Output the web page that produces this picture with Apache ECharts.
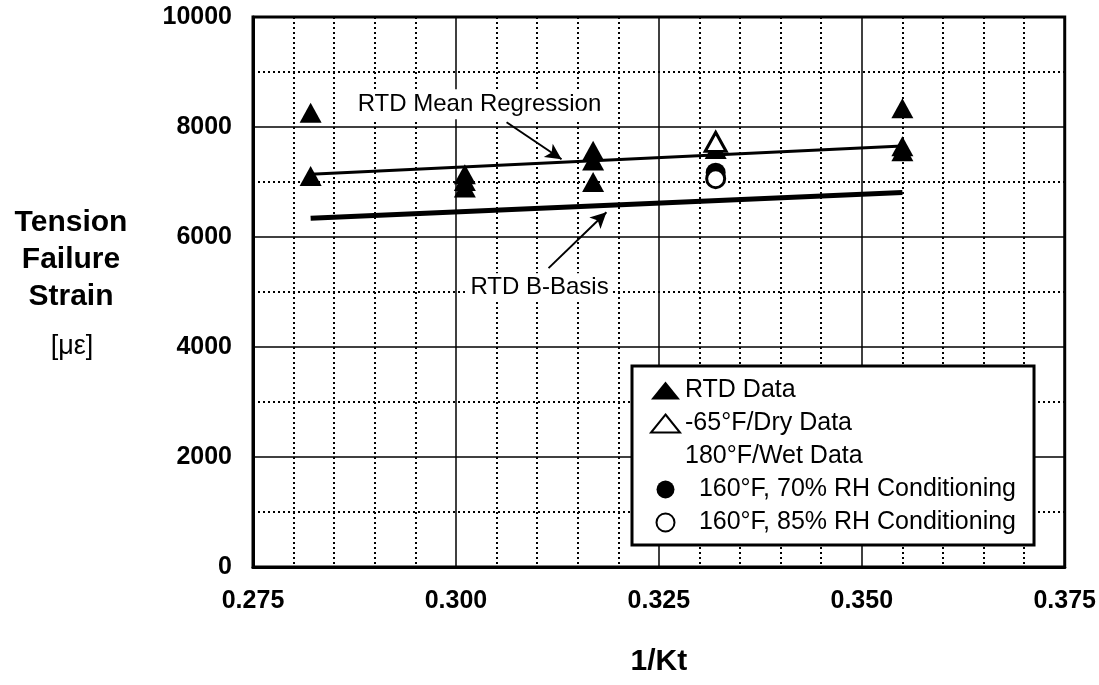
<!DOCTYPE html>
<html>
<head>
<meta charset="utf-8">
<script src="https://cdn.jsdelivr.net/npm/echarts@6/dist/echarts.min.js"></script>
<style>
html,body{margin:0;padding:0;background:#fff;}
#chart{width:1099px;height:685px;}
</style>
</head>
<body>
<div id="chart"></div>
<script>
// ---- data ----
const rtdX = [0.2821, 0.2821, 0.3011, 0.3011, 0.3011, 0.3169, 0.3169, 0.3169, 0.3320, 0.3550, 0.3550, 0.3550];
const rtdY = [8260, 7110, 7140, 7020, 6900, 7570, 7390, 7000, 7600, 8340, 7650, 7560];
const dryX = [0.3320];
const dryY = [7730];
const wet70X = [0.3320];
const wet70Y = [7170];
const wet85X = [0.3320];
const wet85Y = [7060];
const meanX = [0.2821, 0.3550];
const meanY = [7140, 7655];
const bBasisX = [0.2821, 0.3550];
const bBasisY = [6340, 6810];
const xTicks = [0.275, 0.300, 0.325, 0.350, 0.375];
const yTicks = [0, 2000, 4000, 6000, 8000, 10000];
const legendNames = ['RTD Data', '-65°F/Dry Data', '180°F/Wet Data', '  160°F, 70% RH Conditioning', '  160°F, 85% RH Conditioning'];
// annotations (data coordinates)
const meanLabel = {text: 'RTD Mean Regression', x: 0.3029, y: 8414};
const meanArrow = {x1: 0.30624, y1: 8087, x2: 0.31301, y2: 7414};
const bLabel = {text: 'RTD B-Basis', x: 0.3103, y: 5088};
const bArrow = {x1: 0.31141, y1: 5434, x2: 0.31854, y2: 6451};

const zip = (xs, ys) => xs.map((x, i) => [x, ys[i]]);
const FONT = '"Liberation Sans", Arial, Helvetica, sans-serif';

const chart = echarts.init(document.getElementById('chart'), null, {renderer: 'canvas'});
const titleGraphics = [
  {type: 'text', x: 71, y: 223, style: {text: 'Tension', font: 'bold 30px ' + FONT, fill: '#000', align: 'center', verticalAlign: 'middle'}},
  {type: 'text', x: 71, y: 260, style: {text: 'Failure', font: 'bold 30px ' + FONT, fill: '#000', align: 'center', verticalAlign: 'middle'}},
  {type: 'text', x: 71, y: 297, style: {text: 'Strain', font: 'bold 30px ' + FONT, fill: '#000', align: 'center', verticalAlign: 'middle'}},
  {type: 'text', x: 72, y: 347, style: {text: '[με]', font: '27px ' + FONT, fill: '#000', align: 'center', verticalAlign: 'middle'}}
];
const option = {
  animation: false,
  backgroundColor: '#fff',
  textStyle: {fontFamily: FONT, color: '#000'},
  grid: {left: 253, top: 17, right: 33, bottom: 118, show: true, borderColor: '#000', borderWidth: 3, backgroundColor: 'transparent'},
  xAxis: {
    type: 'value', min: xTicks[0], max: xTicks[xTicks.length - 1], interval: 0.025,
    axisLine: {show: true, lineStyle: {color: '#000', width: 3}},
    axisTick: {show: false},
    axisLabel: {color: '#000', fontFamily: FONT, fontWeight: 'bold', fontSize: 25, margin: 22,
      formatter: v => v.toFixed(3)},
    splitLine: {show: true, lineStyle: {color: '#000', width: 1.5, type: 'solid'}},
    minorTick: {show: false, splitNumber: 5},
    minorSplitLine: {show: true, lineStyle: {color: '#000', width: 2, type: [2, 3]}},
    name: '1/Kt', nameLocation: 'middle', nameGap: 80,
    nameTextStyle: {color: '#000', fontFamily: FONT, fontWeight: 'bold', fontSize: 30}
  },
  yAxis: {
    type: 'value', min: yTicks[0], max: yTicks[yTicks.length - 1], interval: 2000,
    axisLine: {show: true, lineStyle: {color: '#000', width: 3}},
    axisTick: {show: false},
    axisLabel: {color: '#000', fontFamily: FONT, fontWeight: 'bold', fontSize: 25, margin: 21,
      formatter: v => String(Math.round(v))},
    splitLine: {show: true, lineStyle: {color: '#000', width: 1.5, type: 'solid'}},
    minorTick: {show: false, splitNumber: 2},
    minorSplitLine: {show: true, lineStyle: {color: '#000', width: 2, type: [2, 3]}}
  },
  legend: {
    data: [
      {name: legendNames[0], icon: 'triangle'},
      {name: legendNames[1], icon: 'triangle'},
      {name: legendNames[2], icon: 'none'},
      {name: legendNames[3], icon: 'circle'},
      {name: legendNames[4], icon: 'circle'}
    ],
    orient: 'vertical', left: 632, top: 366,
    backgroundColor: '#fff', borderColor: '#000', borderWidth: 3,
    padding: [12, 18, 10, 18],
    itemWidth: 29, itemHeight: 18, itemGap: 8,
    textStyle: {color: '#000', fontFamily: FONT, fontSize: 25},
    selectedMode: false
  },
  series: [
    {name: 'mean', type: 'line', data: zip(meanX, meanY), symbol: 'none', z: 2,
      lineStyle: {color: '#000', width: 3},
      markLine: {silent: true, symbol: ['none', 'arrow'], symbolSize: [12, 16], label: {show: false},
        lineStyle: {color: '#000', width: 2, type: 'solid'},
        data: [[{coord: [meanArrow.x1, meanArrow.y1]}, {coord: [meanArrow.x2, meanArrow.y2]}],
               [{coord: [bArrow.x1, bArrow.y1]}, {coord: [bArrow.x2, bArrow.y2]}]]}},
    {name: 'bbasis', type: 'line', data: zip(bBasisX, bBasisY), symbol: 'none', z: 2,
      lineStyle: {color: '#000', width: 5}},
    {name: legendNames[0], type: 'scatter', data: zip(rtdX, rtdY), symbol: 'triangle', symbolSize: [22, 20], z: 3,
      itemStyle: {color: '#000', opacity: 1}},
    {name: legendNames[1], type: 'scatter', data: zip(dryX, dryY), symbol: 'triangle', symbolSize: [21, 19], z: 3,
      itemStyle: {color: '#fff', borderColor: '#000', borderWidth: 3, opacity: 1}},
    {name: legendNames[2], type: 'scatter', data: [], symbol: 'none', itemStyle: {color: '#000'}},
    {name: legendNames[3], type: 'scatter', data: zip(wet70X, wet70Y), symbol: 'circle', symbolSize: 20, z: 3,
      itemStyle: {color: '#000', opacity: 1}},
    {name: legendNames[4], type: 'scatter', data: zip(wet85X, wet85Y), symbol: 'circle', symbolSize: 18, z: 3,
      itemStyle: {color: '#fff', borderColor: '#000', borderWidth: 3, opacity: 1}}
  ],
  graphic: titleGraphics
};
chart.setOption(option);

// annotation texts placed at data coordinates via the chart's own scales
const p1 = chart.convertToPixel({gridIndex: 0}, [meanLabel.x, meanLabel.y]);
const p2 = chart.convertToPixel({gridIndex: 0}, [bLabel.x, bLabel.y]);
chart.setOption({
  graphic: titleGraphics.concat([
    {type: 'text', x: p1[0], y: p1[1], z: 100,
      style: {text: meanLabel.text, font: '24px ' + FONT, fill: '#000', align: 'center', verticalAlign: 'middle',
        backgroundColor: '#fff', padding: [3, 4]}},
    {type: 'text', x: p2[0], y: p2[1], z: 100,
      style: {text: bLabel.text, font: '24px ' + FONT, fill: '#000', align: 'center', verticalAlign: 'middle',
        backgroundColor: '#fff', padding: [2, 3]}}
  ])
});
</script>
</body>
</html>
